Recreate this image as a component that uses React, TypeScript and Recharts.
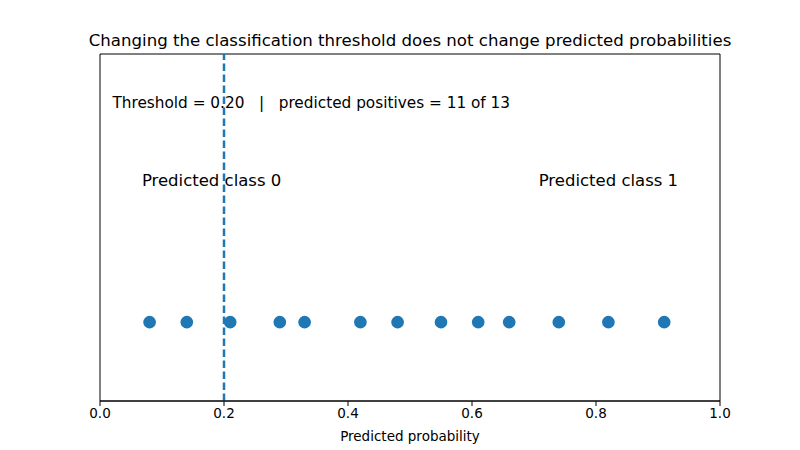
import React from "react";
import {
  ScatterChart,
  Scatter,
  XAxis,
  YAxis,
  ReferenceLine,
  ReferenceArea,
  ReferenceDot,
} from "recharts";

const probabilities = [0.08, 0.14, 0.21, 0.29, 0.33, 0.42, 0.48, 0.55, 0.61, 0.66, 0.74, 0.82, 0.91];
const threshold = 0.2;
const xTicks = [0, 0.2, 0.4, 0.6, 0.8, 1.0];
const titleText = "Changing the classification threshold does not change predicted probabilities";
const xLabel = "Predicted probability";
const classLabels = ["Predicted class 0", "Predicted class 1"];

const points = probabilities.map((p) => ({ x: p, y: 0 }));
const positives = probabilities.filter((p) => p >= threshold).length;
const infoText = `Threshold = ${threshold.toFixed(2)}   |   predicted positives = ${positives} of ${probabilities.length}`;

const FONT = "DejaVu Sans, sans-serif";
const BLUE = "#1f77b4";

const textShape = (txt: string, anchor: string, size: number) => (props: any) => (
  <text
    x={props.cx}
    y={props.cy}
    textAnchor={anchor}
    dominantBaseline="central"
    fontFamily={FONT}
    fontSize={size}
    fill="#000"
    style={{ whiteSpace: "pre" }}
    xmlSpace="preserve"
  >
    {txt}
  </text>
);

export default function App() {
  return (
    <div style={{ position: "absolute", left: 0, top: 0, width: 800, height: 450, background: "#fff" }}>
      <ScatterChart width={800} height={450} margin={{ top: 54, right: 80, bottom: 19, left: 100 }}>
        <text x={410} y={40} textAnchor="middle" dominantBaseline="central" fontFamily={FONT} fontSize={16.6} fill="#000">
          {titleText}
        </text>
        <text x={410} y={436} textAnchor="middle" dominantBaseline="central" fontFamily={FONT} fontSize={13.5} fill="#000">
          {xLabel}
        </text>
        <XAxis
          type="number"
          dataKey="x"
          domain={[0, 1]}
          ticks={xTicks}
          height={30}
          tickFormatter={(v: number) => v.toFixed(1)}
          axisLine={{ stroke: "#000" }}
          tickLine={{ stroke: "#000" }}
          tickSize={5}
          tick={{ fill: "#000", fontFamily: FONT, fontSize: 13.5 }}
          allowDataOverflow
        />
        <YAxis type="number" dataKey="y" domain={[-0.5, 1.7]} hide />
        <ReferenceArea x1={0} x2={1} y1={-0.5} y2={1.7} fill="none" stroke="#000" strokeWidth={1} ifOverflow="visible" />
        <ReferenceLine x={threshold} stroke={BLUE} strokeWidth={2.5} strokeDasharray="7.5 3.5" />
        <Scatter data={points} fill={BLUE} isAnimationActive={false} shape={(p: any) => <circle cx={p.cx} cy={p.cy} r={6.3} fill={BLUE} />} />
        <ReferenceDot x={0.02} y={1.39} shape={textShape(infoText, "start", 15.3)} ifOverflow="visible" />
        <ReferenceDot x={0.18} y={0.9} shape={textShape(classLabels[0], "middle", 16.5)} ifOverflow="visible" />
        <ReferenceDot x={0.82} y={0.9} shape={textShape(classLabels[1], "middle", 16.5)} ifOverflow="visible" />
      </ScatterChart>
    </div>
  );
}
